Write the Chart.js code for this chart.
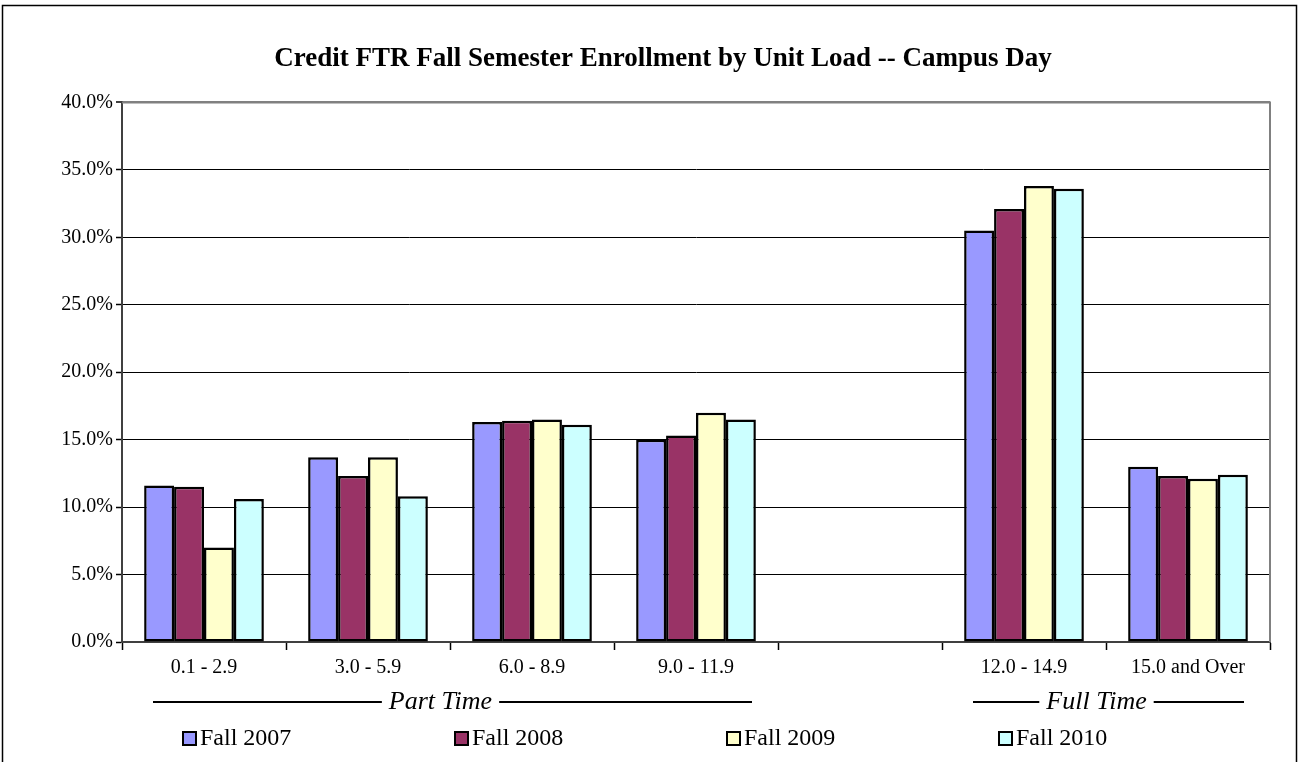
<!DOCTYPE html>
<html>
<head>
<meta charset="utf-8">
<script src="https://cdn.jsdelivr.net/npm/chart.js@4/dist/chart.umd.min.js"></script>
<style>
  body { margin: 0; background: #fff; }
  #chart { display: block; }
</style>
</head>
<body>
<canvas id="chart" width="1298" height="762"></canvas>
<script>
// unit load bands (the blank one is the gap between part time and full time)
const categories = ['0.1 - 2.9', '3.0 - 5.9', '6.0 - 8.9', '9.0 - 11.9', '', '12.0 - 14.9', '15.0 and Over'];
const seriesNames = ['Fall 2007', 'Fall 2008', 'Fall 2009', 'Fall 2010'];
const fall2007 = [11.6, 13.7, 16.3, 15.0, null, 30.5, 13.0];
const fall2008 = [11.5, 12.3, 16.4, 15.3, null, 32.1, 12.3];
const fall2009 = [7.0, 13.7, 16.5, 17.0, null, 33.8, 12.1];
const fall2010 = [10.6, 10.8, 16.1, 16.5, null, 33.6, 12.4];
const yTicks = [0, 5, 10, 15, 20, 25, 30, 35, 40];
// group brackets under the axis: label, first and last category index
const groups = [['Part Time', 0, 3], ['Full Time', 5, 6]];

const colors = ['#9999FF', '#993366', '#FFFFCC', '#CCFFFF'];
const serif = '"Liberation Serif", "Times New Roman", serif';

const extras = {
    id: 'extras',
    beforeDraw(chart) {
        const ctx = chart.ctx;
        ctx.save();
        ctx.fillStyle = '#fff';
        ctx.fillRect(0, 0, chart.width, chart.height);
        ctx.strokeStyle = '#000';
        ctx.lineWidth = 1.5;
        ctx.strokeRect(2.5, 5.5, chart.width - 4, chart.height + 20);
        ctx.restore();
    },
    beforeDatasetsDraw(chart) {
        // grey plot frame on top and right, like the excel plot area
        const a = chart.chartArea;
        const ctx = chart.ctx;
        ctx.save();
        ctx.strokeStyle = '#808080';
        ctx.lineWidth = 2;
        ctx.beginPath();
        ctx.moveTo(a.left, a.top);
        ctx.lineTo(a.right, a.top);
        ctx.lineTo(a.right, a.bottom);
        ctx.stroke();
        ctx.restore();
    },
    afterDraw(chart) {
        const ctx = chart.ctx;
        const x = chart.scales.x;
        const a = chart.chartArea;
        const half = (x.getPixelForValue(1) - x.getPixelForValue(0)) / 2;
        ctx.save();

        // Part Time / Full Time brackets
        const gy = a.bottom + 60;
        ctx.font = 'italic 26px ' + serif;
        ctx.textBaseline = 'middle';
        ctx.textAlign = 'center';
        ctx.strokeStyle = '#000';
        ctx.lineWidth = 2;
        for (const [label, first, last] of groups) {
            const l = x.getPixelForValue(first) - half + 31;
            const r = x.getPixelForValue(last) + half - 26;
            const w = ctx.measureText(label).width;
            const c = (l + r) / 2 - 12;
            ctx.fillStyle = '#000';
            ctx.fillText(label, c, gy);
            ctx.beginPath();
            ctx.moveTo(l, gy);
            ctx.lineTo(c - w / 2 - 7, gy);
            ctx.moveTo(c + w / 2 + 7, gy);
            ctx.lineTo(r, gy);
            ctx.stroke();
        }

        // legend
        const ly = a.bottom + 96;
        ctx.font = '24px ' + serif;
        ctx.textAlign = 'left';
        chart.data.datasets.forEach((ds, i) => {
            const lx = 183 + i * 272;
            ctx.fillStyle = ds.backgroundColor;
            ctx.fillRect(lx, ly - 6, 13, 13);
            ctx.lineWidth = 2;
            ctx.strokeStyle = '#000';
            ctx.strokeRect(lx, ly - 6, 13, 13);
            ctx.fillStyle = '#000';
            ctx.fillText(ds.label, lx + 17, ly + 1);
        });
        ctx.restore();
    }
};

const series = [fall2007, fall2008, fall2009, fall2010];
const ctx = document.getElementById('chart').getContext('2d');

new Chart(ctx, {
    type: 'bar',
    data: {
        labels: categories,
        datasets: series.map((values, i) => ({
            label: seriesNames[i],
            data: values,
            backgroundColor: colors[i],
            borderColor: '#000',
            borderWidth: 2.5,
            borderSkipped: false,
            categoryPercentage: 0.73,
            barPercentage: 1.0
        }))
    },
    options: {
        responsive: false,
        animation: false,
        // left padding pushes the title centre to the right, y axis width makes up the rest
        layout: { padding: { left: 56, right: 28, top: 0, bottom: 0 } },
        plugins: {
            legend: { display: false },
            tooltip: { enabled: false },
            title: {
                display: true,
                text: 'Credit FTR Fall Semester Enrollment by Unit Load -- Campus Day',
                color: '#000',
                font: { family: serif, size: 27, weight: 'bold' },
                padding: { top: 43, bottom: 27 }
            }
        },
        scales: {
            x: {
                offset: true,
                grid: {
                    offset: true,
                    drawOnChartArea: false,
                    drawTicks: true,
                    tickLength: 8,
                    tickWidth: 1.5,
                    tickColor: '#000'
                },
                border: { color: '#404040', width: 2 },
                ticks: {
                    color: '#000',
                    padding: 6,
                    maxRotation: 0,
                    autoSkip: false,
                    font: { family: serif, size: 20 }
                },
                afterFit(scale) { scale.height = 120; }
            },
            y: {
                min: 0,
                max: 40,
                afterBuildTicks(scale) { scale.ticks = yTicks.map(v => ({ value: v })); },
                grid: {
                    color: c => c.tick.value === 40 ? '#808080' : '#000',
                    lineWidth: c => c.tick.value === 40 ? 2 : 1,
                    tickLength: 6,
                    tickColor: '#000',
                    tickWidth: 1.5
                },
                border: { color: '#404040', width: 2 },
                ticks: {
                    color: '#000',
                    padding: 3,
                    font: { family: serif, size: 20 },
                    callback: v => v.toFixed(1) + '%'
                },
                afterFit(scale) { scale.width = 66; }
            }
        }
    },
    plugins: [extras]
});
</script>
</body>
</html>
